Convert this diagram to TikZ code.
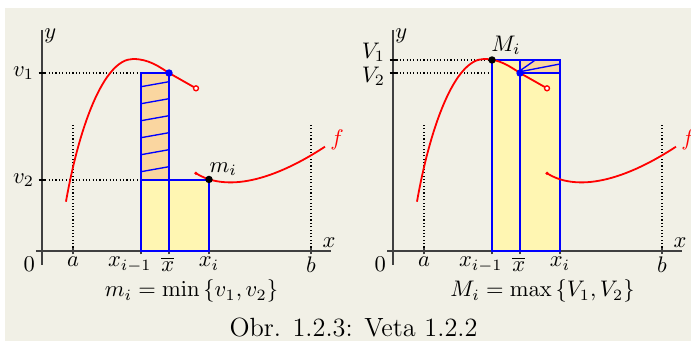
\documentclass[tikz,border=0pt]{standalone}
\usepackage{amsmath}
\usetikzlibrary{positioning, calc}

\definecolor{paper}{RGB}{241,240,230}
\definecolor{peach}{RGB}{250,214,160}
\definecolor{lemon}{RGB}{255,246,178}

% axes, ticks and the points a, x_{i-1}, \overline{x}, x_i, b
\newcommand{\axes}[1]{%
  \draw[axis] (-0.146,0) -- (7.05,0);
  \draw[axis] (0,-0.34) -- (0,5.39);
  \node (#1x) at (7.0,0.2) {$x$};
  \node (#1y) at (0.2,5.25) {$y$};
  \node[lab, below left=2pt and 2.5pt] (#1o) at (0,0) {$0$};
  \draw[guide] (0.756,0) -- (0.756,3.07);
  \draw[guide] (6.56,0) -- (6.56,3.07);
  \foreach \t in {0.756, 2.415, 3.098, 4.073, 6.56}
    \draw[axis] (\t,-0.085) -- (\t,0.085);
  \node[lab, below=2pt] (#1a) at (0.756,0) {$a$};
  \node[lab, below=2pt, xshift=-5pt] (#1xl) at (2.415,0) {$x_{i-1}$};
  \node[lab, below=2pt, xshift=-0.5pt] (#1xm) at (3.098,0) {$\overline{x}$};
  \node[lab, below=2pt] (#1xr) at (4.073,0) {$x_i$};
  \node[lab, below=2pt] (#1b) at (6.56,0) {$b$};
}

% graph of f (two pieces)
\newcommand{\graphf}[1]{%
  \draw[graph] (0.585,1.203) .. controls (0.9,3.0) and (1.5,4.683) .. (2.22,4.683)
    .. controls (2.6,4.683) and (2.85,4.5) .. (3.098,4.341) -- (3.756,3.968);
  \draw[graph] (3.756,1.895) .. controls (4.3,1.55) and (5.3,1.5) .. (6.902,2.544);
  \fill[red] (3.756,1.895) circle (0.8pt);
  \draw[graph, fill=white, line width=0.6pt] (3.756,3.968) circle (1.1pt);
  \node[red] (#1f) at (7.195,2.707) {$f$};
}

\begin{document}
\begin{tikzpicture}[x=0.64cm, y=0.64cm,
    axis/.style={black!75, line width=0.6pt},
    guide/.style={black, densely dotted, line width=0.5pt},
    rect/.style={blue, line width=1pt},
    hatch/.style={blue, line width=0.6pt},
    graph/.style={red, line width=0.8pt},
    lab/.style={inner sep=0.5pt},
    spot/.style={circle, fill=#1, inner sep=0pt, minimum size=3.3pt}]

  \useasboundingbox (-1.024,-2.195) rectangle (15.829,6.122);
  \fill[paper] (-0.902,-2.195) rectangle (15.829,5.927);

  % left: m_i = min
  \axes{l}
  \fill[peach] (2.415,1.732) rectangle (3.098,4.341);
  \fill[lemon] (2.415,0) rectangle (4.073,1.732);
  \foreach \k in {0,...,5}
    \draw[hatch] (2.415,{4.007-0.4146*\k}) -- (3.098,{4.129-0.4146*\k});
  \draw[guide] (0,4.341) -- (2.415,4.341);
  \draw[guide] (0,1.732) -- (2.415,1.732);
  \draw[axis, line width=1pt, black] (-0.085,4.341) -- (0.085,4.341);
  \draw[axis, line width=1pt, black] (-0.085,1.732) -- (0.085,1.732);
  \node[left] (v1) at (0,4.341) {$v_1$};
  \node[left] (v2) at (0,1.732) {$v_2$};
  \draw[rect] (2.415,0) rectangle (3.098,4.341);
  \draw[rect] (2.415,0) rectangle (4.073,1.732);
  \graphf{l}
  \node[spot=blue] (lbar) at (3.098,4.341) {};
  \node[spot=black] (lmin) at (4.073,1.745) {};
  \node[lab] (mi) at (4.42,1.99) {$m_i$};
  \node[lab] (lform) at (3.646,-0.98) {$m_i=\min\left\{v_1,v_2\right\}$};

  % right: M_i = max
  \begin{scope}[shift={(8.561,0)}]
    \axes{r}
    \fill[lemon] (2.415,0) rectangle (4.073,4.659);
    \fill[peach] (3.098,4.341) rectangle (4.073,4.659);
    \draw[hatch] (3.098,4.373) -- (4.073,4.561);
    \draw[hatch] (3.098,4.398) -- (3.46,4.651);
    \draw[guide] (0,4.659) -- (2.415,4.659);
    \draw[guide] (0,4.341) -- (2.415,4.341);
    \draw[axis, line width=1pt, black] (-0.085,4.659) -- (0.085,4.659);
    \draw[axis, line width=1pt, black] (-0.085,4.341) -- (0.085,4.341);
    \node[left] (V1) at (0,4.85) {$V_1$};
    \node[left] (V2) at (0,4.256) {$V_2$};
    \draw[rect] (2.415,0) rectangle (4.073,4.659);
    \draw[rect] (3.098,0) -- (3.098,4.659);
    \draw[rect] (3.098,4.341) -- (4.073,4.341);
    \graphf{r}
    \node[spot=black] (rmax) at (2.415,4.659) {};
    \node[spot=blue] (rbar) at (3.098,4.341) {};
    \node[lab] (Mi) at (2.756,5.024) {$M_i$};
    \node[lab] (rform) at (3.646,-0.98) {$M_i=\max\left\{V_1,V_2\right\}$};
  \end{scope}

  \node (caption) at (7.598,-1.854) {\fontsize{11.7}{14}\selectfont Obr. 1.2.3: Veta 1.2.2};
\end{tikzpicture}
\end{document}
